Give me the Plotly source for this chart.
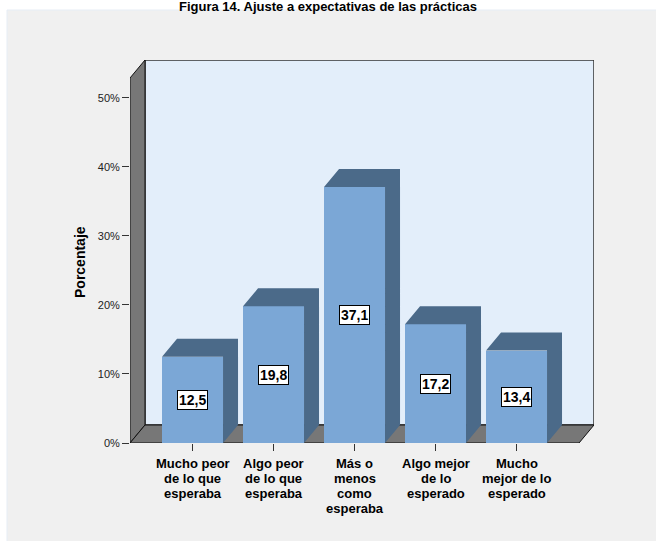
import plotly.graph_objects as go

# Survey responses: share of students (%) by how the internship matched expectations
categories = [
    "Mucho peor de lo que esperaba",
    "Algo peor de lo que esperaba",
    "Más o menos como esperaba",
    "Algo mejor de lo esperado",
    "Mucho mejor de lo esperado",
]
category_lines = [
    ["Mucho peor", "de lo que", "esperaba"],
    ["Algo peor", "de lo que", "esperaba"],
    ["Más o", "menos", "como", "esperaba"],
    ["Algo mejor", "de lo", "esperado"],
    ["Mucho", "mejor de lo", "esperado"],
]
percentages = [12.5, 19.8, 37.1, 17.2, 13.4]
y_ticks = [0, 10, 20, 30, 40, 50]
y_tick_labels = [f"{t}%" for t in y_ticks]

title_text = "Figura 14. Ajuste a expectativas de las prácticas"

# Figure geometry
W, H = 656, 541
M_L, M_R, M_T, M_B = 130, 62, 60, 98
plot_w = W - M_L - M_R
plot_h = H - M_T - M_B
Y_MAX = 55.5
X_MIN = -0.772
X_MAX = X_MIN + plot_w / 81.0
px_x = (X_MAX - X_MIN) / plot_w      # x units per pixel
px_y = Y_MAX / plot_h                # y units per pixel
DX = 15 * px_x                       # depth of the pseudo-3D box
DY = 18 * px_y
BAR_W = 61 * px_x
X_FRONT_R = X_MAX - DX

FONT = "Arial, Liberation Sans, sans-serif"
FRONT = "#7ba7d6"
SHADE = "#4b6a89"
WALL = "#e3eefa"
GREY = "#777777"
PANEL = "#f0f0f0"

xs = list(range(len(categories)))

fig = go.Figure()

# Bar front faces
fig.add_trace(go.Bar(
    x=xs, y=percentages, width=BAR_W,
    marker=dict(color=FRONT, line=dict(width=0)),
    hoverinfo="skip", showlegend=False,
))

# Bar side and top faces
sx, sy = [], []
for x, v in zip(xs, percentages):
    l, r = x - BAR_W / 2, x + BAR_W / 2
    sx += [r, r + DX, r + DX, r, r, None]
    sy += [0, DY, v + DY, v, 0, None]
    sx += [l, l + DX, r + DX, r, l, None]
    sy += [v, v + DY, v + DY, v, v, None]
fig.add_trace(go.Scatter(
    x=sx, y=sy, mode="lines", fill="toself", fillcolor=SHADE,
    line=dict(width=0, color=SHADE), hoverinfo="skip", showlegend=False,
))

shapes = []
# Grey panel behind the chart
shapes.append(dict(
    type="rect", xref="paper", yref="paper", layer="below",
    x0=(7 - M_L) / plot_w, x1=(W + 5 - M_L) / plot_w,
    y0=-(M_B + 5) / plot_h, y1=1 + (M_T - 10) / plot_h,
    fillcolor=PANEL, line=dict(color="#e6edf5", width=1),
))
# Back wall
shapes.append(dict(
    type="rect", xref="x", yref="y", layer="below",
    x0=X_MIN + DX, x1=X_MAX, y0=DY, y1=Y_MAX,
    fillcolor=WALL, line=dict(color="#333333", width=1.5),
))
# Left wall
shapes.append(dict(
    type="path", xref="x", yref="y", layer="below",
    path=(f"M {X_MIN},0 L {X_MIN},{Y_MAX - DY} L {X_MIN + DX},{Y_MAX} "
          f"L {X_MIN + DX},{DY} Z"),
    fillcolor=GREY, line=dict(color="#111111", width=1),
))
# Floor
shapes.append(dict(
    type="path", xref="x", yref="y", layer="below",
    path=(f"M {X_MIN},0 L {X_FRONT_R},0 L {X_MAX},{DY} "
          f"L {X_MIN + DX},{DY} Z"),
    fillcolor=GREY, line=dict(color="#111111", width=1),
))

annotations = []
# Value labels in white boxes, centred on each bar face
for x, v in zip(xs, percentages):
    annotations.append(dict(
        x=x, y=v / 2, xref="x", yref="y", showarrow=False,
        text=f"<b>{v:.1f}</b>".replace(".", ","),
        font=dict(family=FONT, size=14, color="#000000"),
        bgcolor="#ffffff", bordercolor="#000000", borderwidth=1, borderpad=1,
        xanchor="center", yanchor="middle",
    ))
# Category labels, one line at a time for tight line spacing
LINE_STEP = 15
for x, lines in zip(xs, category_lines):
    for i, line in enumerate(lines):
        annotations.append(dict(
            x=x, y=0, xref="x", yref="y", showarrow=False,
            text=f"<b>{line}</b>",
            font=dict(family=FONT, size=13, color="#000000"),
            borderpad=0, borderwidth=0,
            xanchor="center", yanchor="middle",
            yshift=-(20 + LINE_STEP * i),
        ))
# Y axis title
annotations.append(dict(
    x=0, y=(443 - 262) / plot_h, xref="paper", yref="paper",
    xshift=-50, showarrow=False, textangle=-90,
    text="<b>Porcentaje</b>",
    font=dict(family=FONT, size=14, color="#000000"),
    xanchor="center", yanchor="middle",
))

fig.update_layout(
    width=W, height=H,
    margin=dict(l=M_L, r=M_R, t=M_T, b=M_B, pad=0),
    paper_bgcolor="#ffffff",
    plot_bgcolor="rgba(0,0,0,0)",
    title=dict(
        text=f"<b>{title_text}</b>", x=0.5, xanchor="center",
        y=1 - 2 / H, yanchor="top", yref="container", pad=dict(t=0, b=0),
        font=dict(family=FONT, size=13, color="#000000"),
    ),
    xaxis=dict(
        range=[X_MIN, X_MAX], tickvals=xs, showticklabels=False,
        ticks="outside", ticklen=7, tickcolor="#333333", tickwidth=1,
        showgrid=False, zeroline=False, showline=False, fixedrange=True,
    ),
    yaxis=dict(
        range=[0, Y_MAX], tickvals=y_ticks, ticktext=y_tick_labels,
        ticks="outside", ticklen=7, tickcolor="#333333", tickwidth=1,
        tickfont=dict(family=FONT, size=11, color="#222222"),
        showgrid=False, zeroline=False, showline=False, fixedrange=True,
    ),
    shapes=shapes,
    annotations=annotations,
    bargap=0,
    showlegend=False,
)

fig.write_html("out.html")
